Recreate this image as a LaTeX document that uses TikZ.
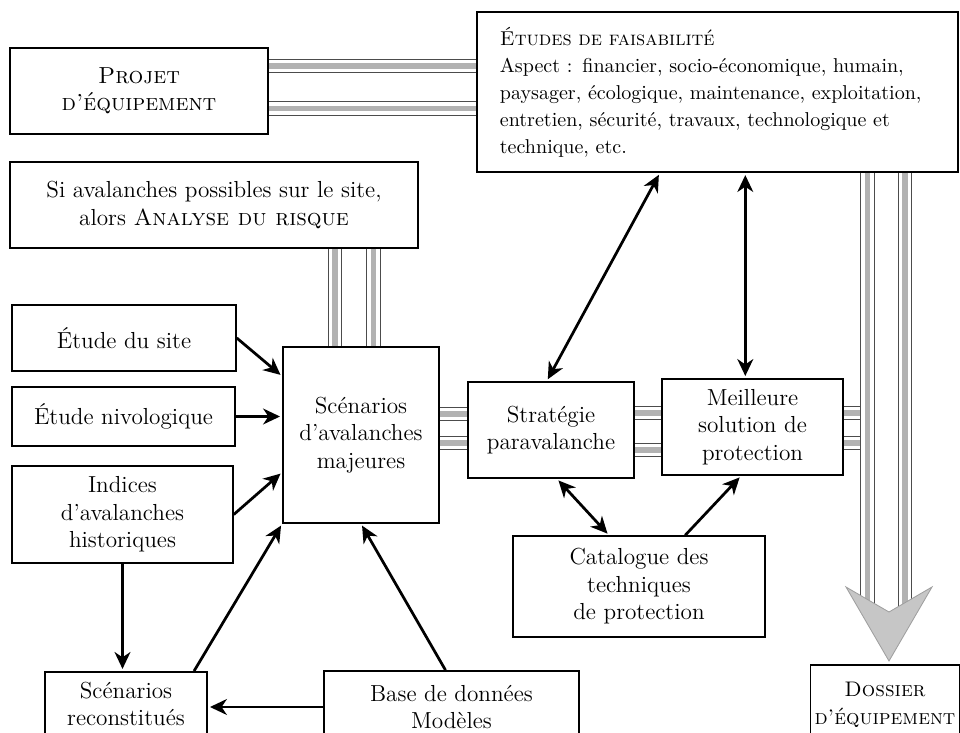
\documentclass[tikz,border=0pt]{standalone}
\usepackage{tikz}
\usetikzlibrary{arrows.meta}
\tikzstyle{box}=[rectangle,draw,thick,fill=white,text=black,align=center,inner sep=2pt,font=\fontsize{11}{13}\selectfont]
\tikzstyle{flow}=[->,line width=1.3pt,>={Stealth[length=8pt,width=7.5pt,inset=2.5pt]},shorten >=1pt]
\tikzstyle{both}=[flow,<->,shorten <=1pt]
\tikzstyle{bandedge}=[draw=black!70,line width=0.35pt]
\tikzstyle{hband}=[draw=gray!60,line width=2.4pt,postaction={bandedge,transform canvas={yshift=3.2pt}},postaction={bandedge,transform canvas={yshift=-3.2pt}}]
\tikzstyle{vband}=[draw=gray!60,line width=2.4pt,postaction={bandedge,transform canvas={xshift=3.2pt}},postaction={bandedge,transform canvas={xshift=-3.2pt}}]

\begin{document}
\begin{tikzpicture}[x=0.016667cm,y=-0.016667cm]
  \useasboundingbox (0,0) rectangle (960,733);

  \node[box,minimum width=4.3cm,minimum height=1.43cm] (P) at (139,91) {\textsc{Projet}\\\textsc{d'équipement}};
  \node[box,minimum width=8.02cm,minimum height=2.67cm,text width=7.25cm,align=left,font=\fontsize{9.5}{12.8}\selectfont] (E) at (717.5,92) {\textsc{Études de faisabilité}\\Aspect : financier, socio-économique, humain,\\paysager, écologique, maintenance, exploitation,\\entretien, sécurité, travaux, technologique et\\technique, etc.};
  \node[box,minimum width=6.8cm,minimum height=1.43cm] (S) at (214,205) {Si avalanches possibles sur le site,\\alors \textsc{Analyse du risque}};
  \node[box,minimum width=3.73cm,minimum height=1.1cm] (D1) at (124,338) {Étude du site};
  \node[box,minimum width=3.72cm,minimum height=0.98cm] (D2) at (123.5,416.5) {Étude nivologique};
  \node[box,minimum width=3.68cm,minimum height=1.62cm] (D3) at (122.5,514.5) {Indices\\d'avalanches\\historiques};
  \node[box,minimum width=2.6cm,minimum height=2.93cm] (SM) at (361,435) {Scénarios\\d'avalanches\\majeures};
  \node[box,minimum width=2.77cm,minimum height=1.6cm] (ST) at (551,430) {Stratégie\\paravalanche};
  \node[box,minimum width=3.02cm,minimum height=1.6cm] (M) at (752.5,427) {Meilleure\\solution de\\protection};
  \node[box,minimum width=4.2cm,minimum height=1.68cm] (C) at (639,586.5) {Catalogue des\\techniques\\de protection};
  \node[box,minimum width=2.7cm,minimum height=1.07cm] (SR) at (126,704) {Scénarios\\reconstitués};
  \node[box,minimum width=4.25cm,minimum height=1.2cm] (B) at (451.5,707) {Base de données\\Modèles};
  \node[box,minimum width=2.43cm,minimum height=1.33cm,font=\fontsize{10}{13}\selectfont] (DO) at (885,705) {\textsc{Dossier}\\\textsc{d'équipement}};

  % les conduites
  \draw[hband] (P.east |- 0,66) -- (E.west |- 0,66);
  \draw[hband] (P.east |- 0,108.5) -- (E.west |- 0,108.5);
  \draw[vband] (S.south -| 335,0) -- (SM.north -| 335,0);
  \draw[vband] (S.south -| 373.5,0) -- (SM.north -| 373.5,0);
  \draw[hband] (SM.east |- 0,414) -- (ST.west |- 0,414);
  \draw[hband] (SM.east |- 0,443) -- (ST.west |- 0,443);
  \draw[hband] (ST.east |- 0,413) -- (M.west |- 0,413);
  \draw[hband] (ST.east |- 0,450) -- (M.west |- 0,450);

  \coordinate (pl) at (867.5,0);
  \coordinate (pr) at (905,0);
  \coordinate (tip) at (889,661);
  \draw[hband] (M.east |- 0,413) -- (860,413);
  \draw[hband] (M.east |- 0,443) -- (860,443);
  \draw[vband] (E.south -| pl) -- (pl |- 0,604);
  \draw[vband] (E.south -| pr) -- (pr |- 0,606);
  \filldraw[fill=gray!45,draw=gray!75,line width=0.4pt] (846,587) -- (889,612) -- (932,587) -- (tip) -- cycle;

  % les flèches
  \draw[flow] (D1.east) -- ([yshift=-0.5cm]SM.north west);
  \draw[flow] (D2.east) -- (D2.east -| SM.west);
  \draw[flow] (D3.east) -- ([yshift=-0.62cm]SM.west);
  \draw[flow] (D3.south) -- (D3.south |- SR.north);
  \draw[flow] ([xshift=-0.23cm]SR.north east) -- (SM.south west);
  \draw[flow] ([xshift=-0.1cm]B.north) -- (SM.south);
  \draw[flow] (B.west) -- (B.west -| SR.east);
  \draw[both] ([xshift=-0.96cm]E.south) -- ([xshift=-0.07cm]ST.north);
  \draw[both] ([xshift=-0.12cm]M.north |- E.south) -- ([xshift=-0.12cm]M.north);
  \draw[both] ([xshift=0.1cm]ST.south) -- ([xshift=-0.5cm]C.north);
  \draw[flow] ([xshift=0.77cm]C.north) -- ([xshift=-0.19cm]M.south);

\end{tikzpicture}
\end{document}
